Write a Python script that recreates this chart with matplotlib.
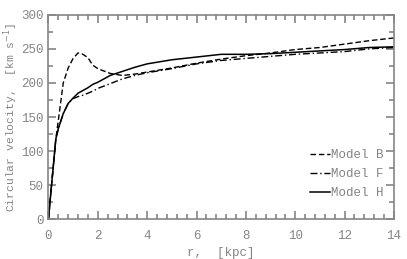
import numpy as np
import matplotlib
matplotlib.use('Agg')
import matplotlib.pyplot as plt
from matplotlib.ticker import MultipleLocator

plt.rcParams['font.family'] = ['Liberation Mono', 'DejaVu Sans Mono']

# rotation curves
r = [0, 0.1, 0.3, 0.4, 0.6, 0.8, 1.0, 1.2, 1.4, 1.6, 1.8, 2.0, 2.5, 3.0, 3.5,
     4, 5, 6, 7, 8, 9, 10, 11, 12, 13, 14]
v_B = [0, 40, 118, 145, 200, 222, 236, 244, 242, 237, 226, 221, 214, 211, 213,
       216, 222, 229, 235, 240, 244, 249, 252, 257, 262, 266]
v_F = [0, 40, 118, 133, 155, 170, 177, 180, 182, 185, 188, 192, 199, 206, 211,
       215, 221, 228, 233, 236, 239, 242, 244, 246, 250, 252]
v_H = [0, 40, 118, 133, 155, 170, 178, 185, 189, 193, 198, 201, 211, 217, 223,
       228, 234, 238, 242, 242, 243, 245, 247, 249, 252, 253]
labels = ['Model B', 'Model F', 'Model H']

grey = '#858585'
fig = plt.figure(figsize=(4.07, 2.59), dpi=100)
ax = fig.add_axes([0.119, 0.153, 0.849, 0.79])

ax.plot(r, v_B, color='black', lw=1.0, ls=(0, (4, 2)), label=labels[0])
ax.plot(r, v_F, color='black', lw=1.0, ls=(0, (5, 2, 1, 2)), label=labels[1])
ax.plot(r, v_H, color='black', lw=1.1, ls='-', label=labels[2])

ax.set_xlim(0, 14)
ax.set_ylim(0, 300)
ax.xaxis.set_major_locator(MultipleLocator(2))
ax.xaxis.set_minor_locator(MultipleLocator(0.4))
ax.yaxis.set_major_locator(MultipleLocator(50))
ax.yaxis.set_minor_locator(MultipleLocator(25))
ax.tick_params(which='both', direction='in', top=True, right=True,
               colors=grey, labelcolor=grey, labelsize=9, width=1.2)
ax.tick_params(which='major', length=6)
ax.tick_params(which='minor', length=3.5)
ax.tick_params(axis='x', pad=8)
for s in ax.spines.values():
    s.set_color(grey)
    s.set_linewidth(1.2)

ax.set_xlabel('r,  [kpc]', color=grey, fontsize=9, labelpad=3)
ax.set_ylabel('Circular velocity,  [km s$^{-1}$]', color=grey, fontsize=8.2)
ax.yaxis.set_label_coords(-0.082, 0.5)

leg = ax.legend(loc='lower right', bbox_to_anchor=(0.985, 0.075), frameon=False,
                fontsize=9, handlelength=1.6, handletextpad=0.1,
                labelspacing=0.55, borderaxespad=0)
for t in leg.get_texts():
    t.set_color(grey)

fig.savefig('out.png', dpi=100)
